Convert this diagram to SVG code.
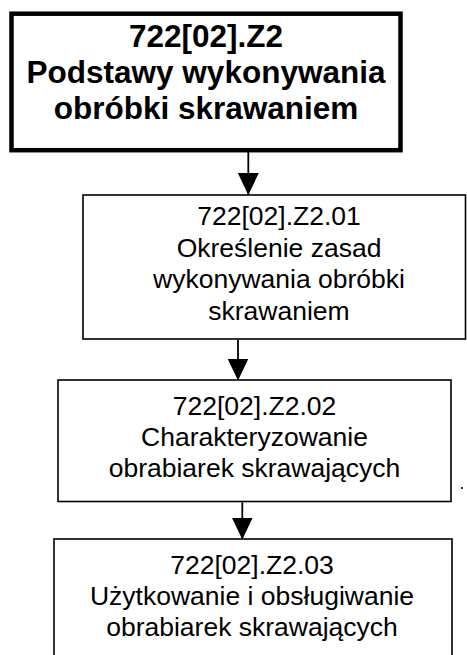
<svg xmlns="http://www.w3.org/2000/svg" width="467" height="655" viewBox="0 0 467 655">
  <style>
    .box { fill: #fff; stroke: #000; stroke-width: 1.6; }
    .main { fill: #fff; stroke: #000; stroke-width: 4.5; }
    .t { font-family: "Liberation Sans", Arial, sans-serif; font-size: 26.5px; fill: #000; text-anchor: middle; }
    .tb { font-family: "Liberation Sans", Arial, sans-serif; font-size: 31.5px; font-weight: bold; fill: #000; text-anchor: middle; }
    .conn { stroke: #000; stroke-width: 1.8; fill: none; }
  </style>
  <defs>
    <marker id="arr" markerUnits="userSpaceOnUse" markerWidth="22" markerHeight="22" refX="20" refY="10" orient="auto" viewBox="0 0 21 20">
      <path d="M0,0 L21,10 L0,20 Z" fill="#000"/>
    </marker>
  </defs>
  <rect width="467" height="655" fill="#fff"/>
  <g id="n0">
    <rect class="main" x="11.5" y="13.7" width="389" height="136.5"/>
    <text class="tb" x="206" y="47">722[02].Z2</text>
    <text class="tb" x="206" y="83">Podstawy wykonywania</text>
    <text class="tb" x="206" y="119">obróbki skrawaniem</text>
  </g>
  <g id="n1">
    <rect class="box" x="83" y="195" width="382.5" height="144"/>
    <text class="t" x="279" y="225">722[02].Z2.01</text>
    <text class="t" x="279" y="256.5">Określenie zasad</text>
    <text class="t" x="279" y="288">wykonywania obróbki</text>
    <text class="t" x="279" y="319.5">skrawaniem</text>
  </g>
  <g id="n2">
    <rect class="box" x="58" y="380" width="393" height="121.5"/>
    <text class="t" x="254.5" y="415">722[02].Z2.02</text>
    <text class="t" x="254.5" y="446">Charakteryzowanie</text>
    <text class="t" x="254.5" y="477">obrabiarek skrawających</text>
  </g>
  <g id="n3">
    <rect class="box" x="54" y="539" width="398" height="130"/>
    <text class="t" x="252" y="574">722[02].Z2.03</text>
    <text class="t" x="252" y="605">Użytkowanie i obsługiwanie</text>
    <text class="t" x="252" y="636">obrabiarek skrawających</text>
  </g>
  <g id="connectors">
    <line class="conn" x1="248.3" y1="152" x2="248.3" y2="194" marker-end="url(#arr)"/>
    <line class="conn" x1="238" y1="339.8" x2="238" y2="379.5" marker-end="url(#arr)"/>
    <line class="conn" x1="242.3" y1="502.3" x2="242.3" y2="538.5" marker-end="url(#arr)"/>
  </g>
  <rect x="461" y="487" width="2" height="2" fill="#333"/>
</svg>
